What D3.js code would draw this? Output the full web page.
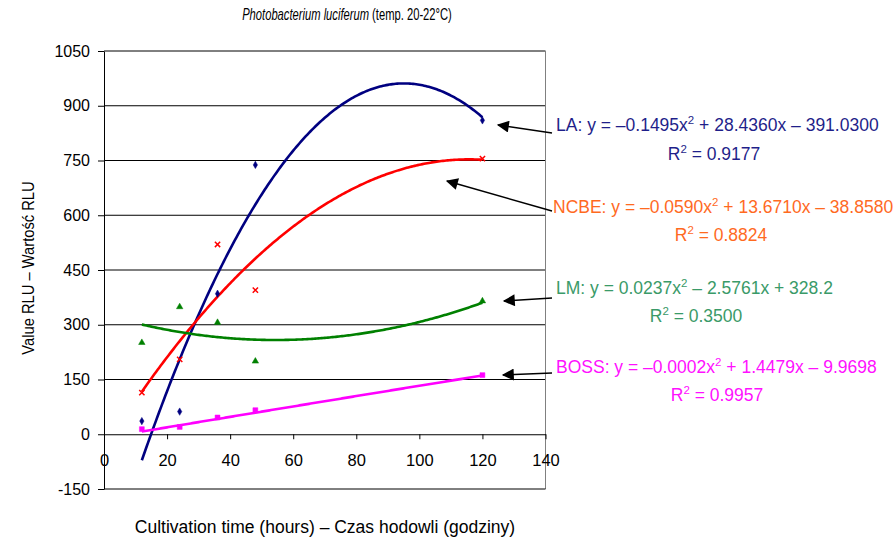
<!DOCTYPE html>
<html>
<head>
<meta charset="utf-8">
<script src="https://cdn.jsdelivr.net/npm/d3@7"></script>
<style>
  body { margin: 0; background: #fff; }
  svg { font-family: "Liberation Sans", Arial, sans-serif; }
</style>
</head>
<body>
<div id="chart"></div>
<script>
// sampling times (hours) and measured RLU values
const hours = [12, 24, 36, 48, 120]
const laValues = [36, 62, 385, 738, 860]
const ncbeValues = [114, 205, 520, 395, 755]
const lmValues = [251, 349, 306, 200, 365]
const bossValues = [14, 20, 46, 66, 162]

// polynomial trend coefficients [a, b, c] for y = a*x^2 + b*x + c
const laFit = [-0.1495, 28.4360, -391.0300]
const ncbeFit = [-0.0590, 13.6710, -38.8580]
const lmFit = [0.0237, -2.5761, 328.2]
const bossFit = [-0.0002, 1.4479, -9.9698]

const equationTexts = [
  ['LA: y = –0.1495x', '2', ' + 28.4360x – 391.0300'],
  ['NCBE: y = –0.0590x', '2', ' + 13.6710x – 38.8580'],
  ['LM: y = 0.0237x', '2', ' – 2.5761x + 328.2'],
  ['BOSS: y = –0.0002x', '2', ' + 1.4479x – 9.9698']
]
const rSquared = ['0.9177', '0.8824', '0.3500', '0.9957']

const yTicks = [-150, 0, 150, 300, 450, 600, 750, 900, 1050]
const xTicks = [0, 20, 40, 60, 80, 100, 120, 140]

const width = 896
const height = 539
const plot = { left: 104, right: 545.5, top: 51, bottom: 489 }

const svg = d3.select('#chart').append('svg')
  .attr('width', width)
  .attr('height', height)

const x = d3.scaleLinear().domain([0, 140]).range([plot.left, plot.right])
const y = d3.scaleLinear().domain([-150, 1050]).range([plot.bottom, plot.top])

// gridlines
svg.append('g').selectAll('line')
  .data(yTicks.filter(d => d > 0))
  .enter().append('line')
  .attr('x1', plot.left).attr('x2', plot.right)
  .attr('y1', d => y(d)).attr('y2', d => y(d))
  .attr('stroke', '#000').attr('stroke-width', 1)

// plot border (right + bottom)
svg.append('path')
  .attr('d', `M${plot.right},${plot.top}V${plot.bottom}`)
  .attr('fill', 'none').attr('stroke', '#808080').attr('stroke-width', 1)
svg.append('line')
  .attr('x1', plot.left).attr('x2', plot.right)
  .attr('y1', plot.bottom).attr('y2', plot.bottom)
  .attr('stroke', '#000').attr('stroke-width', 1)

// y axis
const yAxis = d3.axisLeft(y).tickValues(yTicks)
  .tickFormat(d => String(d))
  .tickSize(6).tickSizeOuter(0).tickPadding(8)
const gy = svg.append('g')
  .attr('transform', `translate(${plot.left},0)`)
  .call(yAxis)
gy.select('.domain').attr('stroke', '#000')
gy.selectAll('text').attr('font-size', 16).attr('fill', '#000')

// x axis at y = 0
const xAxis = d3.axisBottom(x).tickValues(xTicks)
  .tickFormat(d => String(d))
  .tickSize(5).tickSizeOuter(0).tickPadding(15)
const gx = svg.append('g')
  .attr('transform', `translate(0,${y(0)})`)
  .call(xAxis)
gx.select('.domain').attr('stroke', '#000')
gx.selectAll('text').attr('font-size', 16.5).attr('fill', '#000')

const colors = ['#000080', '#ff0000', '#008000', '#ff00ff']
const textColors = ['#1f1f8a', '#ff6a1f', '#3a9a68', '#ff10ff']
const fits = [laFit, ncbeFit, lmFit, bossFit]
const values = [laValues, ncbeValues, lmValues, bossValues]

// trend curves
const line = d3.line().x(d => x(d[0])).y(d => y(d[1]))
const tGrid = d3.range(hours[0], hours[hours.length - 1] + 0.001, 0.5)
fits.forEach((c, i) => {
  svg.append('path')
    .datum(tGrid.map(t => [t, c[0] * t * t + c[1] * t + c[2]]))
    .attr('d', line)
    .attr('fill', 'none')
    .attr('stroke', colors[i])
    .attr('stroke-width', 2.6)
})

// markers
const symbols = [d3.symbolDiamond, d3.symbolX, d3.symbolTriangle, d3.symbolSquare]
const sizes = [16, 20, 18, 24]
values.forEach((vals, i) => {
  const sym = d3.symbol().type(symbols[i]).size(sizes[i])
  svg.append('g').selectAll('path')
    .data(vals.map((v, j) => [hours[j], v]))
    .enter().append('path')
    .attr('transform', d => `translate(${x(d[0])},${y(d[1])})`)
    .attr('d', sym)
    .attr('fill', i === 1 ? 'none' : colors[i])
    .attr('stroke', colors[i])
    .attr('stroke-width', i === 1 ? 1.5 : 0.5)
})

// title (narrow face in the original, so squeeze it horizontally)
const title = svg.append('text')
  .attr('transform', 'translate(347,20) scale(0.7,1)')
  .attr('text-anchor', 'middle')
  .attr('font-size', 16)
title.append('tspan').attr('font-style', 'italic').text('Photobacterium luciferum')
title.append('tspan').text(' (temp. 20-22°C)')

// axis titles
svg.append('text')
  .attr('x', 325).attr('y', 533)
  .attr('text-anchor', 'middle')
  .attr('font-size', 17.5)
  .text('Cultivation time (hours) – Czas hodowli (godziny)')

svg.append('text')
  .attr('transform', 'translate(34,268) rotate(-90) scale(0.92,1)')
  .attr('text-anchor', 'middle')
  .attr('font-size', 16)
  .text('Value RLU – Wartość RLU')

// equation labels
const labelPos = [
  { x: 556, y: 131, rx: 714, ry: 160 },
  { x: 553, y: 213, rx: 721, ry: 241 },
  { x: 556, y: 294, rx: 696, ry: 322 },
  { x: 556, y: 373, rx: 717, ry: 401 }
]
equationTexts.forEach((parts, i) => {
  const p = labelPos[i]
  const t = svg.append('text')
    .attr('x', p.x).attr('y', p.y)
    .attr('font-size', 17.5)
    .attr('fill', textColors[i])
  t.append('tspan').text(parts[0])
  t.append('tspan').attr('font-size', 11.5).attr('dy', -7).text(parts[1])
  t.append('tspan').attr('dy', 7).text(parts[2])

  const r = svg.append('text')
    .attr('x', p.rx).attr('y', p.ry)
    .attr('text-anchor', 'middle')
    .attr('font-size', 17.5)
    .attr('fill', textColors[i])
  r.append('tspan').text('R')
  r.append('tspan').attr('font-size', 11.5).attr('dy', -7).text('2')
  r.append('tspan').attr('dy', 7).text(' = ' + rSquared[i])
})

// arrows
svg.append('defs').append('marker')
  .attr('id', 'arrow')
  .attr('viewBox', '0 0 10 10')
  .attr('refX', 9).attr('refY', 5)
  .attr('markerWidth', 16).attr('markerHeight', 12)
  .attr('markerUnits', 'userSpaceOnUse')
  .attr('orient', 'auto')
  .append('path')
  .attr('d', 'M0,0L10,5L0,10z')
  .attr('fill', '#000')

const arrows = [
  [552, 133, 498, 125],
  [552, 211, 447, 181],
  [552, 298, 504, 301],
  [552, 373, 503, 375]
]
svg.append('g').selectAll('line')
  .data(arrows)
  .enter().append('line')
  .attr('x1', d => d[0]).attr('y1', d => d[1])
  .attr('x2', d => d[2]).attr('y2', d => d[3])
  .attr('stroke', '#000').attr('stroke-width', 1.5)
  .attr('marker-end', 'url(#arrow)')
</script>
</body>
</html>
